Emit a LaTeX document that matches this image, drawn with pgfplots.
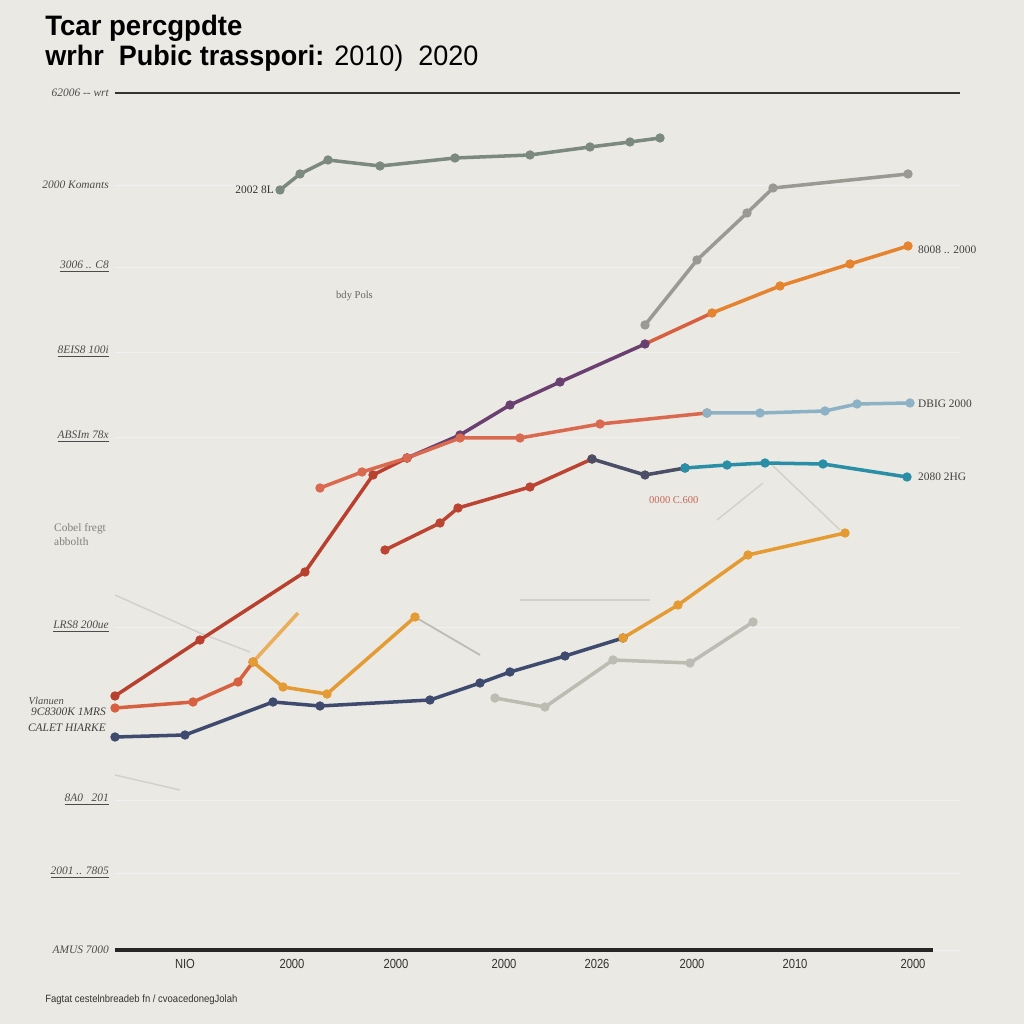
\documentclass[border=0pt]{standalone}
\usepackage{fontspec}
\setmainfont{Liberation Sans}
\newfontfamily\lserif{Liberation Serif}
\usepackage{graphicx}
\usepackage{pgfplots}
\pgfplotsset{compat=1.18}
\definecolor{bg}{HTML}{EAE9E3}
\definecolor{cgreen}{HTML}{7C8A7E}
\definecolor{cgrey}{HTML}{9A9A93}
\definecolor{cred}{HTML}{B8402F}
\definecolor{cpurple}{HTML}{6A4070}
\definecolor{corange}{HTML}{E5832F}
\definecolor{cored}{HTML}{D6603F}
\definecolor{csalmon}{HTML}{D9694F}
\definecolor{cblue}{HTML}{8DB2C6}
\definecolor{cteal}{HTML}{2A8FA6}
\definecolor{cnavy}{HTML}{3E4A6E}
\definecolor{cdnavy}{HTML}{4A4E66}
\definecolor{cgold}{HTML}{E59B33}
\definecolor{clight}{HTML}{BDBCB2}
\begin{document}
\begin{tikzpicture}
\fill[bg] (0,0) rectangle (20.48cm,20.48cm);
\begin{axis}[
  at={(2.3cm,1.48cm)}, anchor=south west,
  scale only axis, width=16.9cm, height=17.14cm,
  xmin=115, xmax=960, ymin=74, ymax=931,
  clip=false,
  axis line style={draw=none},
  major tick length=0pt,
  xtick={185,292,396,504,597,692,795,913},
  xticklabels={NIO,2000,2000,2000,2026,2000,2010,2000},
  xticklabel style={font=\fontsize{7.5}{8}\selectfont, text=black!80, yshift=-2pt, xscale=0.85},
  ytick={931,839,757,672,587,397,224,151,74},
  yticklabels={62006 -- wrt,2000 Komants,\underline{3006 .. C8},\underline{8EIS8 100i},\underline{ABSIm 78x},\underline{LRS8 200ue},\underline{8A0 \ \ 201},\underline{2001 .. 7805},AMUS 7000},
  yticklabel style={font=\lserif\itshape\fontsize{6.5}{7}\selectfont, text=black!70},
  ymajorgrids, grid style={black!6, line width=0.5pt},
  every axis plot/.append style={line width=2pt, mark=*, mark size=1.6pt},
]
% faint background traces
\addplot[clight!70, line width=0.8pt, no marks] coordinates {(115,429) (200,391) (250,372)};
\addplot[clight!70, line width=0.8pt, no marks] coordinates {(520,424) (650,424)};
\addplot[clight!70, line width=0.8pt, no marks] coordinates {(717,504) (763,541)};
\addplot[clight!70, line width=0.8pt, no marks] coordinates {(770,561) (840,494)};
\addplot[clight!70, line width=0.8pt, no marks] coordinates {(115,249) (180,234)};
% grey-green top
\addplot[cgreen] coordinates {(280,834) (300,850) (328,864) (380,858) (455,866) (530,869) (590,877) (630,882) (660,886)};
% grey right
\addplot[cgrey] coordinates {(645,699) (697,764) (747,811) (773,836) (908,850)};
% long red then purple
\addplot[cred] coordinates {(115,328) (200,384) (305,452) (373,549) (407,566)};
\addplot[cpurple] coordinates {(407,566) (460,589) (510,619) (560,642) (645,680)};
% orange top
\addplot[cored, no marks] coordinates {(645,680) (712,711)};
\addplot[corange] coordinates {(712,711) (780,738) (850,760) (908,778)};
% salmon then blue-grey
\addplot[csalmon] coordinates {(320,536) (362,552) (407,566) (460,586) (520,586) (600,600) (707,611)};
\addplot[cblue] coordinates {(707,611) (760,611) (825,613) (857,620) (910,621)};
% red 2 then navy/teal
\addplot[cred!90!csalmon] coordinates {(385,474) (440,501) (458,516) (530,537) (592,565)};
\addplot[cdnavy] coordinates {(592,565) (645,549) (685,556)};
\addplot[cteal] coordinates {(685,556) (727,559) (765,561) (823,560) (907,547)};
% red 3 then gold
\addplot[cored] coordinates {(115,316) (193,322) (238,342) (253,362)};
\addplot[cgold!80, no marks] coordinates {(253,362) (298,411)};
\addplot[cgold] coordinates {(253,362) (283,337) (327,330) (415,407)};
\addplot[clight, line width=1pt, no marks] coordinates {(415,407) (480,369)};
% navy then gold
\addplot[cnavy] coordinates {(115,287) (185,289) (273,322) (320,318) (430,324) (480,341) (510,352) (565,368) (623,386)};
\addplot[cgold] coordinates {(623,386) (678,419) (748,469) (845,491)};
% light grey
\addplot[clight] coordinates {(495,326) (545,317) (613,364) (690,361) (753,402)};
% frame lines
\draw[black!80, line width=0.8pt] (axis cs:115,931) -- (axis cs:960,931);
\draw[black!85, line width=2pt] (axis cs:115,74) -- (axis cs:933,74);
% annotations
\node[anchor=east, font=\lserif\fontsize{6.5}{7}\selectfont, text=black!80] at (axis cs:280,834) {2002 8L};
\node[anchor=west, font=\lserif\fontsize{6}{7}\selectfont, text=black!60] at (axis cs:330,728) {bdy Pols};
\node[anchor=west, font=\lserif\fontsize{6.5}{7}\selectfont, text=black!75] at (axis cs:912,774) {8008 .. 2000};
\node[anchor=west, font=\lserif\fontsize{6.5}{7}\selectfont, text=black!75] at (axis cs:912,620) {DBIG 2000};
\node[anchor=west, font=\lserif\fontsize{6.5}{7}\selectfont, text=black!75] at (axis cs:912,547) {2080 2HG};
\node[anchor=west, font=\lserif\fontsize{6}{7}\selectfont, text=cred!80] at (axis cs:643,524) {0000 C.600};
\node[anchor=west, align=left, font=\lserif\fontsize{6.5}{8}\selectfont, text=black!50] at (axis cs:48,489) {Cobel fregt\\abbolth};
\node[anchor=east, font=\lserif\itshape\fontsize{6}{7}\selectfont, text=black!70] at (axis cs:70,323) {Vlanuen};
\node[anchor=east, font=\lserif\itshape\fontsize{6.5}{7}\selectfont, text=black!75] at (axis cs:112,312) {9C8300K 1MRS};
\node[anchor=east, font=\lserif\itshape\fontsize{6.5}{7}\selectfont, text=black!75] at (axis cs:112,296) {CALET HIARKE};
\end{axis}
\node[anchor=base west, inner sep=0pt] at (0.9cm,19.76cm) {\scalebox{0.98}[1]{\fontsize{16}{18}\selectfont\bfseries Tcar percgpdte}};
\node[anchor=base west, inner sep=0pt] at (0.9cm,19.16cm) {\scalebox{0.96}[1]{\fontsize{16}{18}\selectfont\textbf{wrhr\ \ Pubic trasspori:} 2010) \ 2020}};
\node[anchor=base west, inner sep=0pt, text=black!80] at (0.9cm,0.42cm) {\scalebox{0.9}[1]{\fontsize{6}{7}\selectfont Fagtat cestelnbreadeb fn / cvoacedonegJolah}};
\pgfresetboundingbox
\path (0,0) rectangle (20.48cm,20.48cm);
\end{tikzpicture}
\end{document}
